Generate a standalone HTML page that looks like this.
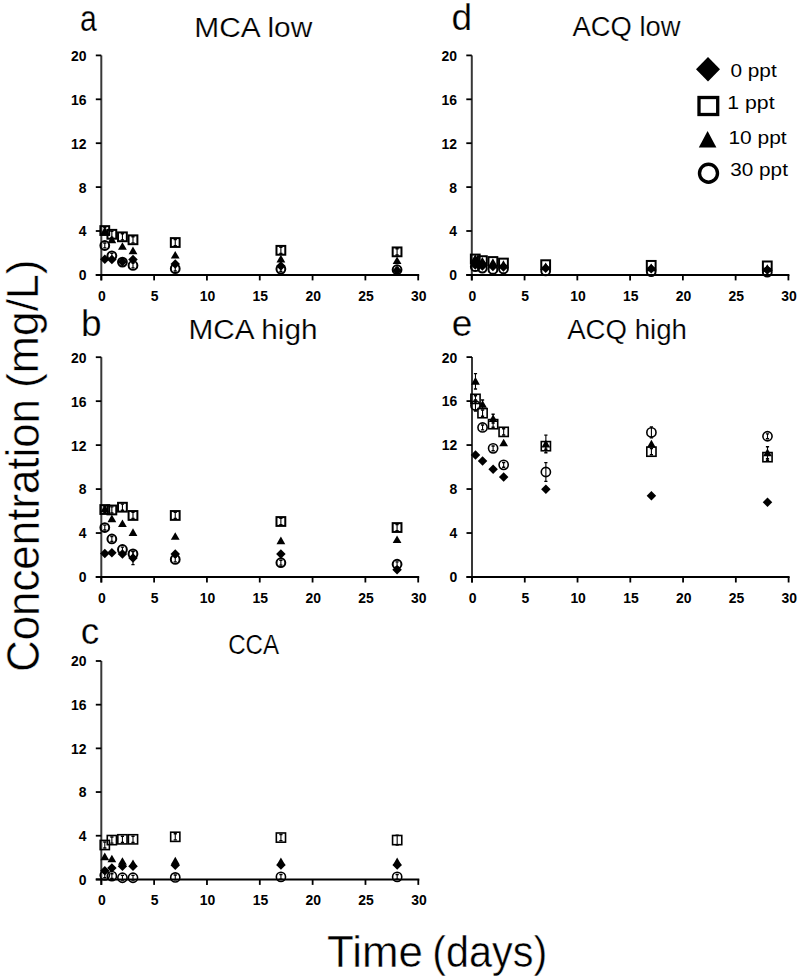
<!DOCTYPE html><html><head><meta charset="utf-8"><style>
html,body{margin:0;padding:0;background:#fff;width:800px;height:979px;overflow:hidden}
svg{display:block} text{font-family:"Liberation Sans", sans-serif;fill:#000} .tk{font-size:15.2px;font-weight:bold}
.ttl{font-size:27px;stroke:#fff;stroke-width:0.2px} .let{font-size:37px;stroke:#fff;stroke-width:0.25px} .lg{font-size:17.6px} .big{font-size:44px;stroke:#fff;stroke-width:0.45px}
</style></head><body>
<svg width="800" height="979" viewBox="0 0 800 979">
<line x1="101.30" y1="55.40" x2="101.30" y2="280.40" stroke="#383838" stroke-width="2"/>
<line x1="95.80" y1="274.90" x2="419.20" y2="274.90" stroke="#000" stroke-width="2"/>
<line x1="95.80" y1="274.90" x2="101.30" y2="274.90" stroke="#000" stroke-width="1.8"/>
<text x="86.50" y="280.30" text-anchor="end" class="tk" textLength="7.75" lengthAdjust="spacingAndGlyphs">0</text>
<line x1="95.80" y1="231.00" x2="101.30" y2="231.00" stroke="#000" stroke-width="1.8"/>
<text x="86.50" y="236.40" text-anchor="end" class="tk" textLength="7.75" lengthAdjust="spacingAndGlyphs">4</text>
<line x1="95.80" y1="187.10" x2="101.30" y2="187.10" stroke="#000" stroke-width="1.8"/>
<text x="86.50" y="192.50" text-anchor="end" class="tk" textLength="7.75" lengthAdjust="spacingAndGlyphs">8</text>
<line x1="95.80" y1="143.20" x2="101.30" y2="143.20" stroke="#000" stroke-width="1.8"/>
<text x="86.50" y="148.60" text-anchor="end" class="tk" textLength="15.50" lengthAdjust="spacingAndGlyphs">12</text>
<line x1="95.80" y1="99.30" x2="101.30" y2="99.30" stroke="#000" stroke-width="1.8"/>
<text x="86.50" y="104.70" text-anchor="end" class="tk" textLength="15.50" lengthAdjust="spacingAndGlyphs">16</text>
<line x1="95.80" y1="55.40" x2="101.30" y2="55.40" stroke="#000" stroke-width="1.8"/>
<text x="86.50" y="60.80" text-anchor="end" class="tk" textLength="15.50" lengthAdjust="spacingAndGlyphs">20</text>
<line x1="101.30" y1="274.90" x2="101.30" y2="280.40" stroke="#000" stroke-width="1.8"/>
<text x="101.90" y="300.90" text-anchor="middle" class="tk" textLength="7.75" lengthAdjust="spacingAndGlyphs">0</text>
<line x1="154.12" y1="274.90" x2="154.12" y2="280.40" stroke="#000" stroke-width="1.8"/>
<text x="154.72" y="300.90" text-anchor="middle" class="tk" textLength="7.75" lengthAdjust="spacingAndGlyphs">5</text>
<line x1="206.93" y1="274.90" x2="206.93" y2="280.40" stroke="#000" stroke-width="1.8"/>
<text x="207.53" y="300.90" text-anchor="middle" class="tk" textLength="15.50" lengthAdjust="spacingAndGlyphs">10</text>
<line x1="259.75" y1="274.90" x2="259.75" y2="280.40" stroke="#000" stroke-width="1.8"/>
<text x="260.35" y="300.90" text-anchor="middle" class="tk" textLength="15.50" lengthAdjust="spacingAndGlyphs">15</text>
<line x1="312.57" y1="274.90" x2="312.57" y2="280.40" stroke="#000" stroke-width="1.8"/>
<text x="313.17" y="300.90" text-anchor="middle" class="tk" textLength="15.50" lengthAdjust="spacingAndGlyphs">20</text>
<line x1="365.38" y1="274.90" x2="365.38" y2="280.40" stroke="#000" stroke-width="1.8"/>
<text x="365.98" y="300.90" text-anchor="middle" class="tk" textLength="15.50" lengthAdjust="spacingAndGlyphs">25</text>
<line x1="418.20" y1="274.90" x2="418.20" y2="280.40" stroke="#000" stroke-width="1.8"/>
<text x="418.80" y="300.90" text-anchor="middle" class="tk" textLength="15.50" lengthAdjust="spacingAndGlyphs">30</text>
<path d="M104.79 254.46L109.54 259.21L104.79 263.96L100.04 259.21Z" fill="#000"/>
<path d="M111.86 254.68L116.61 259.43L111.86 264.18L107.11 259.43Z" fill="#000"/>
<path d="M122.43 256.98L127.18 261.73L122.43 266.48L117.68 261.73Z" fill="#000"/>
<path d="M132.99 254.78L137.74 259.53L132.99 264.28L128.24 259.53Z" fill="#000"/>
<path d="M175.24 259.17L179.99 263.92L175.24 268.67L170.49 263.92Z" fill="#000"/>
<path d="M280.88 261.37L285.63 266.12L280.88 270.87L276.13 266.12Z" fill="#000"/>
<path d="M397.07 265.76L401.82 270.51L397.07 275.26L392.32 270.51Z" fill="#000"/>
<path d="M104.79 233.63V227.49" stroke="#000" stroke-width="1.1" fill="none"/><path d="M103.19 233.63H106.39M103.19 227.49H106.39" stroke="#000" stroke-width="1.4" fill="none"/>
<rect x="100.39" y="226.16" width="8.80" height="8.80" fill="none" stroke="#000" stroke-width="2.0"/>
<path d="M111.86 237.37V231.22" stroke="#000" stroke-width="1.1" fill="none"/><path d="M110.26 237.37H113.46M110.26 231.22H113.46" stroke="#000" stroke-width="1.4" fill="none"/>
<rect x="107.46" y="229.89" width="8.80" height="8.80" fill="none" stroke="#000" stroke-width="2.0"/>
<path d="M122.43 239.89V233.74" stroke="#000" stroke-width="1.1" fill="none"/><path d="M120.83 239.89H124.03M120.83 233.74H124.03" stroke="#000" stroke-width="1.4" fill="none"/>
<rect x="118.03" y="232.42" width="8.80" height="8.80" fill="none" stroke="#000" stroke-width="2.0"/>
<path d="M132.99 242.85V236.71" stroke="#000" stroke-width="1.1" fill="none"/><path d="M131.39 242.85H134.59M131.39 236.71H134.59" stroke="#000" stroke-width="1.4" fill="none"/>
<rect x="128.59" y="235.38" width="8.80" height="8.80" fill="none" stroke="#000" stroke-width="2.0"/>
<path d="M175.24 245.60V239.45" stroke="#000" stroke-width="1.1" fill="none"/><path d="M173.64 245.60H176.84M173.64 239.45H176.84" stroke="#000" stroke-width="1.4" fill="none"/>
<rect x="170.84" y="238.12" width="8.80" height="8.80" fill="none" stroke="#000" stroke-width="2.0"/>
<path d="M280.88 253.39V247.24" stroke="#000" stroke-width="1.1" fill="none"/><path d="M279.28 253.39H282.48M279.28 247.24H282.48" stroke="#000" stroke-width="1.4" fill="none"/>
<rect x="276.48" y="245.92" width="8.80" height="8.80" fill="none" stroke="#000" stroke-width="2.0"/>
<path d="M397.07 254.93V248.78" stroke="#000" stroke-width="1.1" fill="none"/><path d="M395.47 254.93H398.67M395.47 248.78H398.67" stroke="#000" stroke-width="1.4" fill="none"/>
<rect x="392.67" y="247.45" width="8.80" height="8.80" fill="none" stroke="#000" stroke-width="2.0"/>
<path d="M104.79 226.82L109.19 234.42L100.39 234.42Z" fill="#000"/>
<path d="M111.86 235.60L116.26 243.20L107.46 243.20Z" fill="#000"/>
<path d="M122.43 242.18L126.83 249.78L118.03 249.78Z" fill="#000"/>
<path d="M132.99 246.57L137.39 254.17L128.59 254.17Z" fill="#000"/>
<path d="M175.24 250.96L179.64 258.56L170.84 258.56Z" fill="#000"/>
<path d="M280.88 254.81L285.28 262.41L276.48 262.41Z" fill="#000"/>
<path d="M397.07 256.45L401.47 264.05L392.67 264.05Z" fill="#000"/>
<path d="M104.79 247.90V243.07" stroke="#000" stroke-width="1.1" fill="none"/><path d="M103.19 247.90H106.39M103.19 243.07H106.39" stroke="#000" stroke-width="1.4" fill="none"/>
<circle cx="104.79" cy="245.49" r="4.40" fill="none" stroke="#000" stroke-width="2.0"/>
<path d="M111.86 258.22V253.39" stroke="#000" stroke-width="1.1" fill="none"/><path d="M110.26 258.22H113.46M110.26 253.39H113.46" stroke="#000" stroke-width="1.4" fill="none"/>
<circle cx="111.86" cy="255.80" r="4.40" fill="none" stroke="#000" stroke-width="2.0"/>
<path d="M122.43 264.47V259.64" stroke="#000" stroke-width="1.1" fill="none"/><path d="M120.83 264.47H124.03M120.83 259.64H124.03" stroke="#000" stroke-width="1.4" fill="none"/>
<circle cx="122.43" cy="262.06" r="4.40" fill="none" stroke="#000" stroke-width="2.0"/>
<path d="M132.99 267.88V263.05" stroke="#000" stroke-width="1.1" fill="none"/><path d="M131.39 267.88H134.59M131.39 263.05H134.59" stroke="#000" stroke-width="1.4" fill="none"/>
<circle cx="132.99" cy="265.46" r="4.40" fill="none" stroke="#000" stroke-width="2.0"/>
<path d="M175.24 271.06V266.23" stroke="#000" stroke-width="1.1" fill="none"/><path d="M173.64 271.06H176.84M173.64 266.23H176.84" stroke="#000" stroke-width="1.4" fill="none"/>
<circle cx="175.24" cy="268.64" r="4.40" fill="none" stroke="#000" stroke-width="2.0"/>
<path d="M280.88 271.50V266.67" stroke="#000" stroke-width="1.1" fill="none"/><path d="M279.28 271.50H282.48M279.28 266.67H282.48" stroke="#000" stroke-width="1.4" fill="none"/>
<circle cx="280.88" cy="269.08" r="4.40" fill="none" stroke="#000" stroke-width="2.0"/>
<path d="M397.07 272.16V267.33" stroke="#000" stroke-width="1.1" fill="none"/><path d="M395.47 272.16H398.67M395.47 267.33H398.67" stroke="#000" stroke-width="1.4" fill="none"/>
<circle cx="397.07" cy="269.74" r="4.40" fill="none" stroke="#000" stroke-width="2.0"/>
<line x1="471.80" y1="55.40" x2="471.80" y2="280.40" stroke="#383838" stroke-width="2"/>
<line x1="466.30" y1="274.90" x2="789.40" y2="274.90" stroke="#000" stroke-width="2"/>
<line x1="466.30" y1="274.90" x2="471.80" y2="274.90" stroke="#000" stroke-width="1.8"/>
<text x="457.00" y="280.30" text-anchor="end" class="tk" textLength="7.75" lengthAdjust="spacingAndGlyphs">0</text>
<line x1="466.30" y1="231.00" x2="471.80" y2="231.00" stroke="#000" stroke-width="1.8"/>
<text x="457.00" y="236.40" text-anchor="end" class="tk" textLength="7.75" lengthAdjust="spacingAndGlyphs">4</text>
<line x1="466.30" y1="187.10" x2="471.80" y2="187.10" stroke="#000" stroke-width="1.8"/>
<text x="457.00" y="192.50" text-anchor="end" class="tk" textLength="7.75" lengthAdjust="spacingAndGlyphs">8</text>
<line x1="466.30" y1="143.20" x2="471.80" y2="143.20" stroke="#000" stroke-width="1.8"/>
<text x="457.00" y="148.60" text-anchor="end" class="tk" textLength="15.50" lengthAdjust="spacingAndGlyphs">12</text>
<line x1="466.30" y1="99.30" x2="471.80" y2="99.30" stroke="#000" stroke-width="1.8"/>
<text x="457.00" y="104.70" text-anchor="end" class="tk" textLength="15.50" lengthAdjust="spacingAndGlyphs">16</text>
<line x1="466.30" y1="55.40" x2="471.80" y2="55.40" stroke="#000" stroke-width="1.8"/>
<text x="457.00" y="60.80" text-anchor="end" class="tk" textLength="15.50" lengthAdjust="spacingAndGlyphs">20</text>
<line x1="471.80" y1="274.90" x2="471.80" y2="280.40" stroke="#000" stroke-width="1.8"/>
<text x="472.40" y="300.90" text-anchor="middle" class="tk" textLength="7.75" lengthAdjust="spacingAndGlyphs">0</text>
<line x1="524.57" y1="274.90" x2="524.57" y2="280.40" stroke="#000" stroke-width="1.8"/>
<text x="525.17" y="300.90" text-anchor="middle" class="tk" textLength="7.75" lengthAdjust="spacingAndGlyphs">5</text>
<line x1="577.33" y1="274.90" x2="577.33" y2="280.40" stroke="#000" stroke-width="1.8"/>
<text x="577.93" y="300.90" text-anchor="middle" class="tk" textLength="15.50" lengthAdjust="spacingAndGlyphs">10</text>
<line x1="630.10" y1="274.90" x2="630.10" y2="280.40" stroke="#000" stroke-width="1.8"/>
<text x="630.70" y="300.90" text-anchor="middle" class="tk" textLength="15.50" lengthAdjust="spacingAndGlyphs">15</text>
<line x1="682.87" y1="274.90" x2="682.87" y2="280.40" stroke="#000" stroke-width="1.8"/>
<text x="683.47" y="300.90" text-anchor="middle" class="tk" textLength="15.50" lengthAdjust="spacingAndGlyphs">20</text>
<line x1="735.63" y1="274.90" x2="735.63" y2="280.40" stroke="#000" stroke-width="1.8"/>
<text x="736.23" y="300.90" text-anchor="middle" class="tk" textLength="15.50" lengthAdjust="spacingAndGlyphs">25</text>
<line x1="788.40" y1="274.90" x2="788.40" y2="280.40" stroke="#000" stroke-width="1.8"/>
<text x="789.00" y="300.90" text-anchor="middle" class="tk" textLength="15.50" lengthAdjust="spacingAndGlyphs">30</text>
<path d="M475.28 257.53L480.03 262.28L475.28 267.03L470.53 262.28Z" fill="#000"/>
<path d="M482.35 259.17L487.10 263.92L482.35 268.67L477.60 263.92Z" fill="#000"/>
<path d="M492.91 261.70L497.66 266.45L492.91 271.20L488.16 266.45Z" fill="#000"/>
<path d="M503.46 262.25L508.21 267.00L503.46 271.75L498.71 267.00Z" fill="#000"/>
<path d="M545.67 263.56L550.42 268.31L545.67 273.06L540.92 268.31Z" fill="#000"/>
<path d="M651.21 264.11L655.96 268.86L651.21 273.61L646.46 268.86Z" fill="#000"/>
<path d="M767.29 265.21L772.04 269.96L767.29 274.71L762.54 269.96Z" fill="#000"/>
<rect x="470.88" y="254.59" width="8.80" height="8.80" fill="none" stroke="#000" stroke-width="2.0"/>
<rect x="477.95" y="256.23" width="8.80" height="8.80" fill="none" stroke="#000" stroke-width="2.0"/>
<rect x="488.51" y="257.11" width="8.80" height="8.80" fill="none" stroke="#000" stroke-width="2.0"/>
<rect x="499.06" y="258.65" width="8.80" height="8.80" fill="none" stroke="#000" stroke-width="2.0"/>
<rect x="541.27" y="260.29" width="8.80" height="8.80" fill="none" stroke="#000" stroke-width="2.0"/>
<rect x="646.81" y="260.95" width="8.80" height="8.80" fill="none" stroke="#000" stroke-width="2.0"/>
<rect x="762.89" y="261.50" width="8.80" height="8.80" fill="none" stroke="#000" stroke-width="2.0"/>
<path d="M475.28 254.26L479.68 261.86L470.88 261.86Z" fill="#000"/>
<path d="M482.35 257.00L486.75 264.60L477.95 264.60Z" fill="#000"/>
<path d="M492.91 258.32L497.31 265.92L488.51 265.92Z" fill="#000"/>
<path d="M503.46 260.29L507.86 267.89L499.06 267.89Z" fill="#000"/>
<path d="M545.67 262.49L550.07 270.09L541.27 270.09Z" fill="#000"/>
<path d="M651.21 263.59L655.61 271.19L646.81 271.19Z" fill="#000"/>
<path d="M767.29 264.13L771.69 271.74L762.89 271.74Z" fill="#000"/>
<circle cx="475.28" cy="266.67" r="4.40" fill="none" stroke="#000" stroke-width="2.0"/>
<circle cx="482.35" cy="268.10" r="4.40" fill="none" stroke="#000" stroke-width="2.0"/>
<circle cx="492.91" cy="269.41" r="4.40" fill="none" stroke="#000" stroke-width="2.0"/>
<circle cx="503.46" cy="268.97" r="4.40" fill="none" stroke="#000" stroke-width="2.0"/>
<circle cx="545.67" cy="270.95" r="4.40" fill="none" stroke="#000" stroke-width="2.0"/>
<circle cx="651.21" cy="271.61" r="4.40" fill="none" stroke="#000" stroke-width="2.0"/>
<circle cx="767.29" cy="272.16" r="4.40" fill="none" stroke="#000" stroke-width="2.0"/>
<path d="M475.28 260.27L480.03 265.02L475.28 269.77L470.53 265.02Z" fill="#000"/>
<path d="M475.28 257.55L479.68 265.15L470.88 265.15Z" fill="#000"/>
<path d="M482.35 261.37L487.10 266.12L482.35 270.87L477.60 266.12Z" fill="#000"/>
<path d="M482.35 259.20L486.75 266.80L477.95 266.80Z" fill="#000"/>
<line x1="101.30" y1="357.20" x2="101.30" y2="582.50" stroke="#383838" stroke-width="2"/>
<line x1="95.80" y1="577.00" x2="419.20" y2="577.00" stroke="#000" stroke-width="2"/>
<line x1="95.80" y1="577.00" x2="101.30" y2="577.00" stroke="#000" stroke-width="1.8"/>
<text x="86.50" y="582.40" text-anchor="end" class="tk" textLength="7.75" lengthAdjust="spacingAndGlyphs">0</text>
<line x1="95.80" y1="533.04" x2="101.30" y2="533.04" stroke="#000" stroke-width="1.8"/>
<text x="86.50" y="538.44" text-anchor="end" class="tk" textLength="7.75" lengthAdjust="spacingAndGlyphs">4</text>
<line x1="95.80" y1="489.08" x2="101.30" y2="489.08" stroke="#000" stroke-width="1.8"/>
<text x="86.50" y="494.48" text-anchor="end" class="tk" textLength="7.75" lengthAdjust="spacingAndGlyphs">8</text>
<line x1="95.80" y1="445.12" x2="101.30" y2="445.12" stroke="#000" stroke-width="1.8"/>
<text x="86.50" y="450.52" text-anchor="end" class="tk" textLength="15.50" lengthAdjust="spacingAndGlyphs">12</text>
<line x1="95.80" y1="401.16" x2="101.30" y2="401.16" stroke="#000" stroke-width="1.8"/>
<text x="86.50" y="406.56" text-anchor="end" class="tk" textLength="15.50" lengthAdjust="spacingAndGlyphs">16</text>
<line x1="95.80" y1="357.20" x2="101.30" y2="357.20" stroke="#000" stroke-width="1.8"/>
<text x="86.50" y="362.60" text-anchor="end" class="tk" textLength="15.50" lengthAdjust="spacingAndGlyphs">20</text>
<line x1="101.30" y1="577.00" x2="101.30" y2="582.50" stroke="#000" stroke-width="1.8"/>
<text x="101.90" y="603.00" text-anchor="middle" class="tk" textLength="7.75" lengthAdjust="spacingAndGlyphs">0</text>
<line x1="154.12" y1="577.00" x2="154.12" y2="582.50" stroke="#000" stroke-width="1.8"/>
<text x="154.72" y="603.00" text-anchor="middle" class="tk" textLength="7.75" lengthAdjust="spacingAndGlyphs">5</text>
<line x1="206.93" y1="577.00" x2="206.93" y2="582.50" stroke="#000" stroke-width="1.8"/>
<text x="207.53" y="603.00" text-anchor="middle" class="tk" textLength="15.50" lengthAdjust="spacingAndGlyphs">10</text>
<line x1="259.75" y1="577.00" x2="259.75" y2="582.50" stroke="#000" stroke-width="1.8"/>
<text x="260.35" y="603.00" text-anchor="middle" class="tk" textLength="15.50" lengthAdjust="spacingAndGlyphs">15</text>
<line x1="312.57" y1="577.00" x2="312.57" y2="582.50" stroke="#000" stroke-width="1.8"/>
<text x="313.17" y="603.00" text-anchor="middle" class="tk" textLength="15.50" lengthAdjust="spacingAndGlyphs">20</text>
<line x1="365.38" y1="577.00" x2="365.38" y2="582.50" stroke="#000" stroke-width="1.8"/>
<text x="365.98" y="603.00" text-anchor="middle" class="tk" textLength="15.50" lengthAdjust="spacingAndGlyphs">25</text>
<line x1="418.20" y1="577.00" x2="418.20" y2="582.50" stroke="#000" stroke-width="1.8"/>
<text x="418.80" y="603.00" text-anchor="middle" class="tk" textLength="15.50" lengthAdjust="spacingAndGlyphs">30</text>
<path d="M104.79 548.73L109.54 553.48L104.79 558.23L100.04 553.48Z" fill="#000"/>
<path d="M111.86 548.07L116.61 552.82L111.86 557.57L107.11 552.82Z" fill="#000"/>
<path d="M122.43 549.17L127.18 553.92L122.43 558.67L117.68 553.92Z" fill="#000"/>
<path d="M132.99 564.58V551.39" stroke="#000" stroke-width="1.1" fill="none"/><path d="M131.39 564.58H134.59M131.39 551.39H134.59" stroke="#000" stroke-width="1.4" fill="none"/>
<path d="M132.99 553.24L137.74 557.99L132.99 562.74L128.24 557.99Z" fill="#000"/>
<path d="M175.24 549.17L179.99 553.92L175.24 558.67L170.49 553.92Z" fill="#000"/>
<path d="M280.88 549.17L285.63 553.92L280.88 558.67L276.13 553.92Z" fill="#000"/>
<path d="M397.07 565.11L401.82 569.86L397.07 574.61L392.32 569.86Z" fill="#000"/>
<path d="M104.79 512.60V506.44" stroke="#000" stroke-width="1.1" fill="none"/><path d="M103.19 512.60H106.39M103.19 506.44H106.39" stroke="#000" stroke-width="1.4" fill="none"/>
<rect x="100.39" y="505.12" width="8.80" height="8.80" fill="none" stroke="#000" stroke-width="2.0"/>
<path d="M111.86 513.04V506.88" stroke="#000" stroke-width="1.1" fill="none"/><path d="M110.26 513.04H113.46M110.26 506.88H113.46" stroke="#000" stroke-width="1.4" fill="none"/>
<rect x="107.46" y="505.56" width="8.80" height="8.80" fill="none" stroke="#000" stroke-width="2.0"/>
<path d="M122.43 510.29V504.14" stroke="#000" stroke-width="1.1" fill="none"/><path d="M120.83 510.29H124.03M120.83 504.14H124.03" stroke="#000" stroke-width="1.4" fill="none"/>
<rect x="118.03" y="502.81" width="8.80" height="8.80" fill="none" stroke="#000" stroke-width="2.0"/>
<path d="M132.99 518.53V512.38" stroke="#000" stroke-width="1.1" fill="none"/><path d="M131.39 518.53H134.59M131.39 512.38H134.59" stroke="#000" stroke-width="1.4" fill="none"/>
<rect x="128.59" y="511.06" width="8.80" height="8.80" fill="none" stroke="#000" stroke-width="2.0"/>
<path d="M175.24 518.53V512.38" stroke="#000" stroke-width="1.1" fill="none"/><path d="M173.64 518.53H176.84M173.64 512.38H176.84" stroke="#000" stroke-width="1.4" fill="none"/>
<rect x="170.84" y="511.06" width="8.80" height="8.80" fill="none" stroke="#000" stroke-width="2.0"/>
<path d="M280.88 524.58V518.42" stroke="#000" stroke-width="1.1" fill="none"/><path d="M279.28 524.58H282.48M279.28 518.42H282.48" stroke="#000" stroke-width="1.4" fill="none"/>
<rect x="276.48" y="517.10" width="8.80" height="8.80" fill="none" stroke="#000" stroke-width="2.0"/>
<path d="M397.07 530.62V524.47" stroke="#000" stroke-width="1.1" fill="none"/><path d="M395.47 530.62H398.67M395.47 524.47H398.67" stroke="#000" stroke-width="1.4" fill="none"/>
<rect x="392.67" y="523.14" width="8.80" height="8.80" fill="none" stroke="#000" stroke-width="2.0"/>
<path d="M104.79 504.68L109.19 512.28L100.39 512.28Z" fill="#000"/>
<path d="M111.86 514.57L116.26 522.17L107.46 522.17Z" fill="#000"/>
<path d="M122.43 519.52L126.83 527.12L118.03 527.12Z" fill="#000"/>
<path d="M132.99 528.31L137.39 535.91L128.59 535.91Z" fill="#000"/>
<path d="M175.24 532.16L179.64 539.76L170.84 539.76Z" fill="#000"/>
<path d="M280.88 536.55L285.28 544.15L276.48 544.15Z" fill="#000"/>
<path d="M397.07 535.45L401.47 543.05L392.67 543.05Z" fill="#000"/>
<path d="M104.79 529.96V525.13" stroke="#000" stroke-width="1.1" fill="none"/><path d="M103.19 529.96H106.39M103.19 525.13H106.39" stroke="#000" stroke-width="1.4" fill="none"/>
<circle cx="104.79" cy="527.54" r="4.40" fill="none" stroke="#000" stroke-width="2.0"/>
<path d="M111.86 541.39V536.56" stroke="#000" stroke-width="1.1" fill="none"/><path d="M110.26 541.39H113.46M110.26 536.56H113.46" stroke="#000" stroke-width="1.4" fill="none"/>
<circle cx="111.86" cy="538.97" r="4.40" fill="none" stroke="#000" stroke-width="2.0"/>
<path d="M122.43 551.94V547.11" stroke="#000" stroke-width="1.1" fill="none"/><path d="M120.83 551.94H124.03M120.83 547.11H124.03" stroke="#000" stroke-width="1.4" fill="none"/>
<circle cx="122.43" cy="549.52" r="4.40" fill="none" stroke="#000" stroke-width="2.0"/>
<path d="M132.99 556.34V551.50" stroke="#000" stroke-width="1.1" fill="none"/><path d="M131.39 556.34H134.59M131.39 551.50H134.59" stroke="#000" stroke-width="1.4" fill="none"/>
<circle cx="132.99" cy="553.92" r="4.40" fill="none" stroke="#000" stroke-width="2.0"/>
<path d="M175.24 561.83V557.00" stroke="#000" stroke-width="1.1" fill="none"/><path d="M173.64 561.83H176.84M173.64 557.00H176.84" stroke="#000" stroke-width="1.4" fill="none"/>
<circle cx="175.24" cy="559.42" r="4.40" fill="none" stroke="#000" stroke-width="2.0"/>
<path d="M280.88 565.13V560.30" stroke="#000" stroke-width="1.1" fill="none"/><path d="M279.28 565.13H282.48M279.28 560.30H282.48" stroke="#000" stroke-width="1.4" fill="none"/>
<circle cx="280.88" cy="562.71" r="4.40" fill="none" stroke="#000" stroke-width="2.0"/>
<path d="M397.07 566.67V561.83" stroke="#000" stroke-width="1.1" fill="none"/><path d="M395.47 566.67H398.67M395.47 561.83H398.67" stroke="#000" stroke-width="1.4" fill="none"/>
<circle cx="397.07" cy="564.25" r="4.40" fill="none" stroke="#000" stroke-width="2.0"/>
<line x1="472.00" y1="357.10" x2="472.00" y2="582.50" stroke="#383838" stroke-width="2"/>
<line x1="466.50" y1="577.00" x2="789.60" y2="577.00" stroke="#000" stroke-width="2"/>
<line x1="466.50" y1="577.00" x2="472.00" y2="577.00" stroke="#000" stroke-width="1.8"/>
<text x="457.20" y="582.40" text-anchor="end" class="tk" textLength="7.75" lengthAdjust="spacingAndGlyphs">0</text>
<line x1="466.50" y1="533.02" x2="472.00" y2="533.02" stroke="#000" stroke-width="1.8"/>
<text x="457.20" y="538.42" text-anchor="end" class="tk" textLength="7.75" lengthAdjust="spacingAndGlyphs">4</text>
<line x1="466.50" y1="489.04" x2="472.00" y2="489.04" stroke="#000" stroke-width="1.8"/>
<text x="457.20" y="494.44" text-anchor="end" class="tk" textLength="7.75" lengthAdjust="spacingAndGlyphs">8</text>
<line x1="466.50" y1="445.06" x2="472.00" y2="445.06" stroke="#000" stroke-width="1.8"/>
<text x="457.20" y="450.46" text-anchor="end" class="tk" textLength="15.50" lengthAdjust="spacingAndGlyphs">12</text>
<line x1="466.50" y1="401.08" x2="472.00" y2="401.08" stroke="#000" stroke-width="1.8"/>
<text x="457.20" y="406.48" text-anchor="end" class="tk" textLength="15.50" lengthAdjust="spacingAndGlyphs">16</text>
<line x1="466.50" y1="357.10" x2="472.00" y2="357.10" stroke="#000" stroke-width="1.8"/>
<text x="457.20" y="362.50" text-anchor="end" class="tk" textLength="15.50" lengthAdjust="spacingAndGlyphs">20</text>
<line x1="472.00" y1="577.00" x2="472.00" y2="582.50" stroke="#000" stroke-width="1.8"/>
<text x="472.60" y="603.00" text-anchor="middle" class="tk" textLength="7.75" lengthAdjust="spacingAndGlyphs">0</text>
<line x1="524.77" y1="577.00" x2="524.77" y2="582.50" stroke="#000" stroke-width="1.8"/>
<text x="525.37" y="603.00" text-anchor="middle" class="tk" textLength="7.75" lengthAdjust="spacingAndGlyphs">5</text>
<line x1="577.53" y1="577.00" x2="577.53" y2="582.50" stroke="#000" stroke-width="1.8"/>
<text x="578.13" y="603.00" text-anchor="middle" class="tk" textLength="15.50" lengthAdjust="spacingAndGlyphs">10</text>
<line x1="630.30" y1="577.00" x2="630.30" y2="582.50" stroke="#000" stroke-width="1.8"/>
<text x="630.90" y="603.00" text-anchor="middle" class="tk" textLength="15.50" lengthAdjust="spacingAndGlyphs">15</text>
<line x1="683.07" y1="577.00" x2="683.07" y2="582.50" stroke="#000" stroke-width="1.8"/>
<text x="683.67" y="603.00" text-anchor="middle" class="tk" textLength="15.50" lengthAdjust="spacingAndGlyphs">20</text>
<line x1="735.83" y1="577.00" x2="735.83" y2="582.50" stroke="#000" stroke-width="1.8"/>
<text x="736.43" y="603.00" text-anchor="middle" class="tk" textLength="15.50" lengthAdjust="spacingAndGlyphs">25</text>
<line x1="788.60" y1="577.00" x2="788.60" y2="582.50" stroke="#000" stroke-width="1.8"/>
<text x="789.20" y="603.00" text-anchor="middle" class="tk" textLength="15.50" lengthAdjust="spacingAndGlyphs">30</text>
<path d="M475.48 450.21L480.23 454.96L475.48 459.71L470.73 454.96Z" fill="#000"/>
<path d="M482.55 456.25L487.30 461.00L482.55 465.75L477.80 461.00Z" fill="#000"/>
<path d="M493.11 464.50L497.86 469.25L493.11 474.00L488.36 469.25Z" fill="#000"/>
<path d="M503.66 472.20L508.41 476.95L503.66 481.70L498.91 476.95Z" fill="#000"/>
<path d="M545.87 484.40L550.62 489.15L545.87 493.90L541.12 489.15Z" fill="#000"/>
<path d="M651.41 490.89L656.16 495.64L651.41 500.39L646.66 495.64Z" fill="#000"/>
<path d="M767.49 497.48L772.24 502.23L767.49 506.98L762.74 502.23Z" fill="#000"/>
<path d="M475.48 401.96V395.80" stroke="#000" stroke-width="1.1" fill="none"/><path d="M473.88 401.96H477.08M473.88 395.80H477.08" stroke="#000" stroke-width="1.4" fill="none"/>
<rect x="470.88" y="394.28" width="9.20" height="9.20" fill="none" stroke="#000" stroke-width="1.6"/>
<path d="M482.55 416.25V410.10" stroke="#000" stroke-width="1.1" fill="none"/><path d="M480.95 416.25H484.15M480.95 410.10H484.15" stroke="#000" stroke-width="1.4" fill="none"/>
<rect x="477.95" y="408.57" width="9.20" height="9.20" fill="none" stroke="#000" stroke-width="1.6"/>
<path d="M493.11 427.25V421.09" stroke="#000" stroke-width="1.1" fill="none"/><path d="M491.51 427.25H494.71M491.51 421.09H494.71" stroke="#000" stroke-width="1.4" fill="none"/>
<rect x="488.51" y="419.57" width="9.20" height="9.20" fill="none" stroke="#000" stroke-width="1.6"/>
<path d="M503.66 434.94V428.79" stroke="#000" stroke-width="1.1" fill="none"/><path d="M502.06 434.94H505.26M502.06 428.79H505.26" stroke="#000" stroke-width="1.4" fill="none"/>
<rect x="499.06" y="427.27" width="9.20" height="9.20" fill="none" stroke="#000" stroke-width="1.6"/>
<path d="M545.87 449.24V443.08" stroke="#000" stroke-width="1.1" fill="none"/><path d="M544.27 449.24H547.47M544.27 443.08H547.47" stroke="#000" stroke-width="1.4" fill="none"/>
<rect x="541.27" y="441.56" width="9.20" height="9.20" fill="none" stroke="#000" stroke-width="1.6"/>
<path d="M651.41 454.74V448.58" stroke="#000" stroke-width="1.1" fill="none"/><path d="M649.81 454.74H653.01M649.81 448.58H653.01" stroke="#000" stroke-width="1.4" fill="none"/>
<rect x="646.81" y="447.06" width="9.20" height="9.20" fill="none" stroke="#000" stroke-width="1.6"/>
<path d="M767.49 460.23V454.08" stroke="#000" stroke-width="1.1" fill="none"/><path d="M765.89 460.23H769.09M765.89 454.08H769.09" stroke="#000" stroke-width="1.4" fill="none"/>
<rect x="762.89" y="452.55" width="9.20" height="9.20" fill="none" stroke="#000" stroke-width="1.6"/>
<path d="M475.48 388.99V373.59" stroke="#000" stroke-width="1.1" fill="none"/><path d="M473.88 388.99H477.08M473.88 373.59H477.08" stroke="#000" stroke-width="1.4" fill="none"/>
<path d="M475.48 377.11L479.88 384.71L471.08 384.71Z" fill="#000"/>
<path d="M482.55 408.78V399.98" stroke="#000" stroke-width="1.1" fill="none"/><path d="M480.95 408.78H484.15M480.95 399.98H484.15" stroke="#000" stroke-width="1.4" fill="none"/>
<path d="M482.55 400.20L486.95 407.80L478.15 407.80Z" fill="#000"/>
<path d="M493.11 423.07V414.27" stroke="#000" stroke-width="1.1" fill="none"/><path d="M491.51 423.07H494.71M491.51 414.27H494.71" stroke="#000" stroke-width="1.4" fill="none"/>
<path d="M493.11 414.49L497.51 422.09L488.71 422.09Z" fill="#000"/>
<path d="M503.66 438.68L508.06 446.28L499.26 446.28Z" fill="#000"/>
<path d="M545.87 452.76V435.16" stroke="#000" stroke-width="1.1" fill="none"/><path d="M544.27 452.76H547.47M544.27 435.16H547.47" stroke="#000" stroke-width="1.4" fill="none"/>
<path d="M545.87 439.78L550.27 447.38L541.47 447.38Z" fill="#000"/>
<path d="M651.41 439.78L655.81 447.38L647.01 447.38Z" fill="#000"/>
<path d="M767.49 458.80V446.71" stroke="#000" stroke-width="1.1" fill="none"/><path d="M765.89 458.80H769.09M765.89 446.71H769.09" stroke="#000" stroke-width="1.4" fill="none"/>
<path d="M767.49 448.58L771.89 456.18L763.09 456.18Z" fill="#000"/>
<path d="M475.48 410.98V399.98" stroke="#000" stroke-width="1.1" fill="none"/><path d="M473.88 410.98H477.08M473.88 399.98H477.08" stroke="#000" stroke-width="1.4" fill="none"/>
<circle cx="475.48" cy="405.48" r="4.60" fill="none" stroke="#000" stroke-width="1.6"/>
<path d="M482.55 429.89V425.05" stroke="#000" stroke-width="1.1" fill="none"/><path d="M480.95 429.89H484.15M480.95 425.05H484.15" stroke="#000" stroke-width="1.4" fill="none"/>
<circle cx="482.55" cy="427.47" r="4.60" fill="none" stroke="#000" stroke-width="1.6"/>
<path d="M493.11 450.78V445.94" stroke="#000" stroke-width="1.1" fill="none"/><path d="M491.51 450.78H494.71M491.51 445.94H494.71" stroke="#000" stroke-width="1.4" fill="none"/>
<circle cx="493.11" cy="448.36" r="4.60" fill="none" stroke="#000" stroke-width="1.6"/>
<path d="M503.66 467.27V462.43" stroke="#000" stroke-width="1.1" fill="none"/><path d="M502.06 467.27H505.26M502.06 462.43H505.26" stroke="#000" stroke-width="1.4" fill="none"/>
<circle cx="503.66" cy="464.85" r="4.60" fill="none" stroke="#000" stroke-width="1.6"/>
<path d="M545.87 481.34V462.65" stroke="#000" stroke-width="1.1" fill="none"/><path d="M544.27 481.34H547.47M544.27 462.65H547.47" stroke="#000" stroke-width="1.4" fill="none"/>
<circle cx="545.87" cy="472.00" r="4.60" fill="none" stroke="#000" stroke-width="1.6"/>
<path d="M651.41 437.91V426.92" stroke="#000" stroke-width="1.1" fill="none"/><path d="M649.81 437.91H653.01M649.81 426.92H653.01" stroke="#000" stroke-width="1.4" fill="none"/>
<circle cx="651.41" cy="432.42" r="4.60" fill="none" stroke="#000" stroke-width="1.6"/>
<path d="M767.49 438.68V433.85" stroke="#000" stroke-width="1.1" fill="none"/><path d="M765.89 438.68H769.09M765.89 433.85H769.09" stroke="#000" stroke-width="1.4" fill="none"/>
<circle cx="767.49" cy="436.26" r="4.60" fill="none" stroke="#000" stroke-width="1.6"/>
<line x1="101.30" y1="661.00" x2="101.30" y2="884.90" stroke="#383838" stroke-width="2"/>
<line x1="95.80" y1="879.40" x2="419.30" y2="879.40" stroke="#000" stroke-width="2"/>
<line x1="95.80" y1="879.40" x2="101.30" y2="879.40" stroke="#000" stroke-width="1.8"/>
<text x="86.50" y="884.80" text-anchor="end" class="tk" textLength="7.75" lengthAdjust="spacingAndGlyphs">0</text>
<line x1="95.80" y1="835.72" x2="101.30" y2="835.72" stroke="#000" stroke-width="1.8"/>
<text x="86.50" y="841.12" text-anchor="end" class="tk" textLength="7.75" lengthAdjust="spacingAndGlyphs">4</text>
<line x1="95.80" y1="792.04" x2="101.30" y2="792.04" stroke="#000" stroke-width="1.8"/>
<text x="86.50" y="797.44" text-anchor="end" class="tk" textLength="7.75" lengthAdjust="spacingAndGlyphs">8</text>
<line x1="95.80" y1="748.36" x2="101.30" y2="748.36" stroke="#000" stroke-width="1.8"/>
<text x="86.50" y="753.76" text-anchor="end" class="tk" textLength="15.50" lengthAdjust="spacingAndGlyphs">12</text>
<line x1="95.80" y1="704.68" x2="101.30" y2="704.68" stroke="#000" stroke-width="1.8"/>
<text x="86.50" y="710.08" text-anchor="end" class="tk" textLength="15.50" lengthAdjust="spacingAndGlyphs">16</text>
<line x1="95.80" y1="661.00" x2="101.30" y2="661.00" stroke="#000" stroke-width="1.8"/>
<text x="86.50" y="666.40" text-anchor="end" class="tk" textLength="15.50" lengthAdjust="spacingAndGlyphs">20</text>
<line x1="101.30" y1="879.40" x2="101.30" y2="884.90" stroke="#000" stroke-width="1.8"/>
<text x="101.90" y="905.40" text-anchor="middle" class="tk" textLength="7.75" lengthAdjust="spacingAndGlyphs">0</text>
<line x1="154.13" y1="879.40" x2="154.13" y2="884.90" stroke="#000" stroke-width="1.8"/>
<text x="154.73" y="905.40" text-anchor="middle" class="tk" textLength="7.75" lengthAdjust="spacingAndGlyphs">5</text>
<line x1="206.97" y1="879.40" x2="206.97" y2="884.90" stroke="#000" stroke-width="1.8"/>
<text x="207.57" y="905.40" text-anchor="middle" class="tk" textLength="15.50" lengthAdjust="spacingAndGlyphs">10</text>
<line x1="259.80" y1="879.40" x2="259.80" y2="884.90" stroke="#000" stroke-width="1.8"/>
<text x="260.40" y="905.40" text-anchor="middle" class="tk" textLength="15.50" lengthAdjust="spacingAndGlyphs">15</text>
<line x1="312.63" y1="879.40" x2="312.63" y2="884.90" stroke="#000" stroke-width="1.8"/>
<text x="313.23" y="905.40" text-anchor="middle" class="tk" textLength="15.50" lengthAdjust="spacingAndGlyphs">20</text>
<line x1="365.47" y1="879.40" x2="365.47" y2="884.90" stroke="#000" stroke-width="1.8"/>
<text x="366.07" y="905.40" text-anchor="middle" class="tk" textLength="15.50" lengthAdjust="spacingAndGlyphs">25</text>
<line x1="418.30" y1="879.40" x2="418.30" y2="884.90" stroke="#000" stroke-width="1.8"/>
<text x="418.90" y="905.40" text-anchor="middle" class="tk" textLength="15.50" lengthAdjust="spacingAndGlyphs">30</text>
<path d="M104.79 865.91L109.54 870.66L104.79 875.41L100.04 870.66Z" fill="#000"/>
<path d="M111.87 863.18L116.62 867.93L111.87 872.68L107.12 867.93Z" fill="#000"/>
<path d="M122.43 861.55L127.18 866.30L122.43 871.05L117.68 866.30Z" fill="#000"/>
<path d="M133.00 861.55L137.75 866.30L133.00 871.05L128.25 866.30Z" fill="#000"/>
<path d="M175.27 860.45L180.02 865.20L175.27 869.95L170.52 865.20Z" fill="#000"/>
<path d="M280.93 860.24L285.68 864.99L280.93 869.74L276.18 864.99Z" fill="#000"/>
<path d="M397.17 860.24L401.92 864.99L397.17 869.74L392.42 864.99Z" fill="#000"/>
<path d="M104.79 848.06V841.94" stroke="#000" stroke-width="1.1" fill="none"/><path d="M103.19 848.06H106.39M103.19 841.94H106.39" stroke="#000" stroke-width="1.4" fill="none"/>
<rect x="100.19" y="840.40" width="9.20" height="9.20" fill="none" stroke="#000" stroke-width="1.6"/>
<path d="M111.87 843.15V837.03" stroke="#000" stroke-width="1.1" fill="none"/><path d="M110.27 843.15H113.47M110.27 837.03H113.47" stroke="#000" stroke-width="1.4" fill="none"/>
<rect x="107.27" y="835.49" width="9.20" height="9.20" fill="none" stroke="#000" stroke-width="1.6"/>
<path d="M122.43 842.38V836.27" stroke="#000" stroke-width="1.1" fill="none"/><path d="M120.83 842.38H124.03M120.83 836.27H124.03" stroke="#000" stroke-width="1.4" fill="none"/>
<rect x="117.83" y="834.72" width="9.20" height="9.20" fill="none" stroke="#000" stroke-width="1.6"/>
<path d="M133.00 842.38V836.27" stroke="#000" stroke-width="1.1" fill="none"/><path d="M131.40 842.38H134.60M131.40 836.27H134.60" stroke="#000" stroke-width="1.4" fill="none"/>
<rect x="128.40" y="834.72" width="9.20" height="9.20" fill="none" stroke="#000" stroke-width="1.6"/>
<path d="M175.27 839.87V833.75" stroke="#000" stroke-width="1.1" fill="none"/><path d="M173.67 839.87H176.87M173.67 833.75H176.87" stroke="#000" stroke-width="1.4" fill="none"/>
<rect x="170.67" y="832.21" width="9.20" height="9.20" fill="none" stroke="#000" stroke-width="1.6"/>
<path d="M280.93 840.63V834.52" stroke="#000" stroke-width="1.1" fill="none"/><path d="M279.33 840.63H282.53M279.33 834.52H282.53" stroke="#000" stroke-width="1.4" fill="none"/>
<rect x="276.33" y="832.98" width="9.20" height="9.20" fill="none" stroke="#000" stroke-width="1.6"/>
<path d="M397.17 845.00V835.17" stroke="#000" stroke-width="1.1" fill="none"/><path d="M395.57 845.00H398.77M395.57 835.17H398.77" stroke="#000" stroke-width="1.4" fill="none"/>
<rect x="392.57" y="835.49" width="9.20" height="9.20" fill="none" stroke="#000" stroke-width="1.6"/>
<path d="M104.79 852.62L109.19 860.22L100.39 860.22Z" fill="#000"/>
<path d="M111.87 854.69L116.27 862.29L107.47 862.29Z" fill="#000"/>
<path d="M122.43 857.20L126.83 864.80L118.03 864.80Z" fill="#000"/>
<path d="M133.00 859.39L137.40 866.99L128.60 866.99Z" fill="#000"/>
<path d="M175.27 856.87L179.67 864.47L170.87 864.47Z" fill="#000"/>
<path d="M280.93 857.53L285.33 865.13L276.53 865.13Z" fill="#000"/>
<path d="M397.17 857.53L401.57 865.13L392.77 865.13Z" fill="#000"/>
<path d="M104.79 877.76V872.96" stroke="#000" stroke-width="1.1" fill="none"/><path d="M103.19 877.76H106.39M103.19 872.96H106.39" stroke="#000" stroke-width="1.4" fill="none"/>
<circle cx="104.79" cy="875.36" r="4.60" fill="none" stroke="#000" stroke-width="1.6"/>
<path d="M111.87 878.53V873.72" stroke="#000" stroke-width="1.1" fill="none"/><path d="M110.27 878.53H113.47M110.27 873.72H113.47" stroke="#000" stroke-width="1.4" fill="none"/>
<circle cx="111.87" cy="876.12" r="4.60" fill="none" stroke="#000" stroke-width="1.6"/>
<path d="M122.43 880.16V875.36" stroke="#000" stroke-width="1.1" fill="none"/><path d="M120.83 880.16H124.03M120.83 875.36H124.03" stroke="#000" stroke-width="1.4" fill="none"/>
<circle cx="122.43" cy="877.76" r="4.60" fill="none" stroke="#000" stroke-width="1.6"/>
<path d="M133.00 880.16V875.36" stroke="#000" stroke-width="1.1" fill="none"/><path d="M131.40 880.16H134.60M131.40 875.36H134.60" stroke="#000" stroke-width="1.4" fill="none"/>
<circle cx="133.00" cy="877.76" r="4.60" fill="none" stroke="#000" stroke-width="1.6"/>
<path d="M175.27 879.84V875.03" stroke="#000" stroke-width="1.1" fill="none"/><path d="M173.67 879.84H176.87M173.67 875.03H176.87" stroke="#000" stroke-width="1.4" fill="none"/>
<circle cx="175.27" cy="877.43" r="4.60" fill="none" stroke="#000" stroke-width="1.6"/>
<path d="M280.93 879.29V874.49" stroke="#000" stroke-width="1.1" fill="none"/><path d="M279.33 879.29H282.53M279.33 874.49H282.53" stroke="#000" stroke-width="1.4" fill="none"/>
<circle cx="280.93" cy="876.89" r="4.60" fill="none" stroke="#000" stroke-width="1.6"/>
<path d="M397.17 879.29V874.49" stroke="#000" stroke-width="1.1" fill="none"/><path d="M395.57 879.29H398.77M395.57 874.49H398.77" stroke="#000" stroke-width="1.4" fill="none"/>
<circle cx="397.17" cy="876.89" r="4.60" fill="none" stroke="#000" stroke-width="1.6"/>
<text class="let" x="80.1" y="30.5" textLength="16.8" lengthAdjust="spacingAndGlyphs">a</text>
<text class="let" x="451.5" y="30">d</text>
<text class="let" x="81" y="336.2">b</text>
<text class="let" x="451.8" y="336">e</text>
<text class="let" x="80.8" y="643.7">c</text>
<text class="ttl" x="194.3" y="36.6" textLength="118" lengthAdjust="spacingAndGlyphs">MCA low</text>
<text class="ttl" x="572.6" y="36.4" textLength="108" lengthAdjust="spacingAndGlyphs">ACQ low</text>
<text class="ttl" x="188.6" y="338.9" textLength="128.9" lengthAdjust="spacingAndGlyphs">MCA high</text>
<text class="ttl" x="567.2" y="338.9" textLength="119.7" lengthAdjust="spacingAndGlyphs">ACQ high</text>
<text class="ttl" x="228.2" y="654.4" textLength="50.9" lengthAdjust="spacingAndGlyphs">CCA</text>
<path d="M708 57L720 69.2L708 81.4L696 69.2Z" fill="#000"/>
<rect x="699" y="97.5" width="18.7" height="17" fill="none" stroke="#000" stroke-width="3.3"/>
<path d="M707.6 131L716.4 147.5L698.8 147.5Z" fill="#000"/>
<circle cx="708.5" cy="173.2" r="9" fill="none" stroke="#000" stroke-width="3.4"/>
<text class="lg" x="730.4" y="77" textLength="46.3" lengthAdjust="spacingAndGlyphs">0 ppt</text>
<text class="lg" x="727.3" y="109" textLength="47.3" lengthAdjust="spacingAndGlyphs">1 ppt</text>
<text class="lg" x="728.4" y="143.7" textLength="58.3" lengthAdjust="spacingAndGlyphs">10 ppt</text>
<text class="lg" x="730.3" y="176" textLength="57.6" lengthAdjust="spacingAndGlyphs">30 ppt</text>
<text class="big" x="327" y="966.8" textLength="95.8" lengthAdjust="spacingAndGlyphs">Time</text>
<text class="big" x="432.3" y="966.8" textLength="115" lengthAdjust="spacingAndGlyphs">(days)</text>
<g transform="translate(38.5,672) rotate(-90)"><text class="big" x="0" y="0" style="font-size:46px" textLength="273" lengthAdjust="spacingAndGlyphs">Concentration</text><text class="big" x="284" y="-0.5" style="font-size:45px" textLength="128.6" lengthAdjust="spacingAndGlyphs">(mg/L)</text></g>
</svg></body></html>
